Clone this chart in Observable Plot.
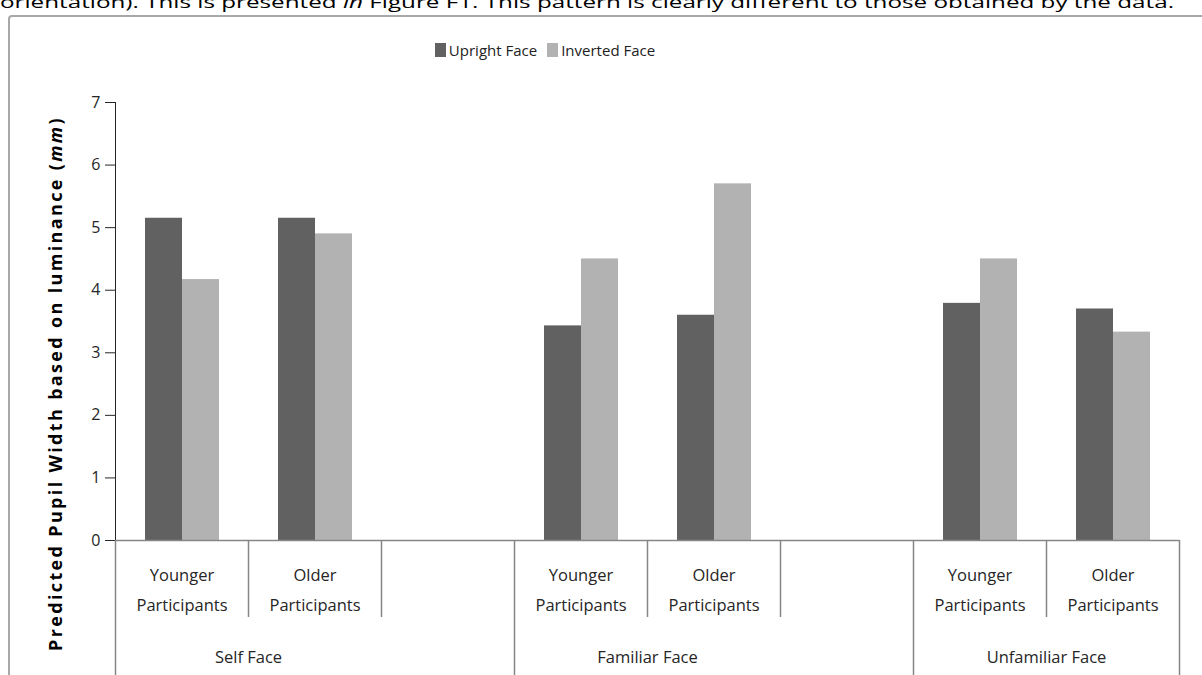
<!DOCTYPE html>
<html><head><meta charset="utf-8">
<script src="https://cdn.jsdelivr.net/npm/d3@7"></script>
<script src="https://cdn.jsdelivr.net/npm/@observablehq/plot@0.6"></script>
<style>
html,body{margin:0;padding:0;background:#fff;}
#wrap{position:relative;width:1202px;height:675px;overflow:hidden;font-family:"Open Sans",sans-serif;}
#toptext{position:absolute;left:0;top:-8px;font-size:17px;line-height:20px;white-space:nowrap;color:#000;transform-origin:0 0;}
#frame{position:absolute;left:8px;top:15px;width:1220px;height:700px;border:2px solid #a8a8a8;border-radius:4px;box-sizing:border-box;}
#legend{position:absolute;left:0;top:33px;width:1100px;display:flex;justify-content:center;}
#legend .lg-swatch{margin-right:10px !important;}
#legend .lg-swatch > svg{margin-right:3px !important;}
#chart{position:absolute;left:0;top:80px;}
#chart svg g[aria-label="y-axis tick"]{stroke:#868686;}
#chart svg g[aria-label="y-axis tick label"]{font-size:16px;}
</style></head><body>
<div id="wrap">
 <div id="toptext">orientation). This is presented <i>in</i> Figure F1. This pattern is clearly different to those obtained by the data.</div>
 <div id="frame"></div>
 <div id="legend"></div>
 <div id="chart"></div>
</div>
<script>
// ---- data ----
const series = ["Upright Face", "Inverted Face"];
const seriesColors = ["#616161", "#b2b2b2"];
const groups = ["Self Face", "Familiar Face", "Unfamiliar Face"];
const slots = ["Self|Y", "Self|O", "Self|gap", "Fam|Y", "Fam|O", "Fam|gap", "Unf|Y", "Unf|O"];
const slotLabels = ["Younger\nParticipants", "Older\nParticipants", "", "Younger\nParticipants", "Older\nParticipants", "", "Younger\nParticipants", "Older\nParticipants"];
const dataSlots = ["Self|Y", "Self|O", "Fam|Y", "Fam|O", "Unf|Y", "Unf|O"];
const upright = [5.15, 5.15, 3.43, 3.60, 3.79, 3.70];
const inverted = [4.17, 4.90, 4.50, 5.70, 4.50, 3.33];
const groupLabelSlots = ["Self|O", "Fam|O", "Unf|O"];
const groupStartSlots = ["Self|Y", "Fam|Y", "Unf|Y"];
const shortDividerSlots = ["Self|O", "Self|gap", "Fam|O", "Fam|gap", "Unf|O"];
const yTicks = [0, 1, 2, 3, 4, 5, 6, 7];
const yTitle = "Predicted Pupil Width based on luminance (mm)";

const table = dataSlots.flatMap((s, i) => [
  {slot: s, series: series[0], value: upright[i]},
  {slot: s, series: series[1], value: inverted[i]}
]);

// ---- layout ----
const W = 1202, H = 595, ML = 115, MR = 23, MT = 22, MB = 135;
const slotW = (W - ML - MR) / slots.length;
const frameH = H - MT - MB;
const axisColor = "#868686";

const plot = Plot.plot({
  width: W, height: H,
  marginLeft: ML, marginRight: MR, marginTop: MT, marginBottom: MB,
  style: {fontFamily: "'Open Sans', sans-serif", fontSize: "16.5px", color: "#262626", background: "transparent", overflow: "visible"},
  fx: {domain: slots, padding: 0, axis: null, label: null},
  x: {domain: series, paddingInner: 0, paddingOuter: 0.78, axis: null, label: null},
  y: {domain: [0, 7], ticks: yTicks, tickFormat: d3.format("d"), tickSize: 10, tickPadding: 5, line: true, label: null},
  color: {domain: series, range: seriesColors},
  marks: [
    Plot.barY(table, {fx: "slot", x: "series", y: "value", fill: "series"}),
    Plot.ruleY([0], {stroke: axisColor, strokeWidth: 1.5}),
    Plot.ruleX(groupStartSlots, {fx: d => d, x: null, dx: -slotW / 2, insetTop: frameH, insetBottom: -MB - 5, stroke: axisColor, strokeWidth: 1.5}),
    Plot.ruleX(shortDividerSlots, {fx: d => d, x: null, dx: -slotW / 2, insetTop: frameH, insetBottom: -77, stroke: axisColor, strokeWidth: 1.5}),
    Plot.ruleX([slots[slots.length - 1]], {fx: d => d, x: null, dx: slotW / 2, insetTop: frameH, insetBottom: -MB - 5, stroke: axisColor, strokeWidth: 1.5}),
    Plot.text(slots, {fx: d => d, text: (d, i) => slotLabels[i], frameAnchor: "bottom", lineAnchor: "middle", dy: 46, lineHeight: 1.8}),
    Plot.text(groupLabelSlots, {fx: d => d, text: (d, i) => groups[i], frameAnchor: "bottom", lineAnchor: "middle", dx: -slotW / 2, dy: 117}),
    Plot.text([slots[0]], {fx: d => d, text: () => yTitle, frameAnchor: "left", textAnchor: "middle", lineAnchor: "middle", rotate: -90, dx: -59, dy: 62, fontWeight: "bold", fontSize: 18, fill: "#000"})
  ]
});
document.getElementById("chart").appendChild(plot);

// italic "mm" in the y title, spaced out to the reference length
plot.querySelectorAll("text").forEach(t => {
  if (t.textContent === yTitle) {
    t.textContent = "";
    const ns = "http://www.w3.org/2000/svg";
    const a = document.createElementNS(ns, "tspan"); a.textContent = "Predicted Pupil Width based on luminance (";
    const b = document.createElementNS(ns, "tspan"); b.textContent = "mm"; b.setAttribute("font-style", "italic");
    const c = document.createElementNS(ns, "tspan"); c.textContent = ")";
    t.append(a, b, c);
    const len = t.getComputedTextLength();
    const ls = Math.max(0, (535 - len) / yTitle.length);
    t.setAttribute("letter-spacing", ls.toFixed(2));
  }
});

// legend
const leg = Plot.legend({
  color: {domain: series, range: seriesColors},
  legend: "swatches", swatchWidth: 11, swatchHeight: 14, className: "lg",
  style: {fontFamily: "'Open Sans', sans-serif", fontSize: "15px", color: "#222"}
});
document.getElementById("legend").appendChild(leg);

// fit the clipped line of body text above the chart
const tt = document.getElementById("toptext");
const tw = tt.getBoundingClientRect().width;
tt.style.transform = `scaleX(${1174 / tw})`;
</script>
</body></html>
